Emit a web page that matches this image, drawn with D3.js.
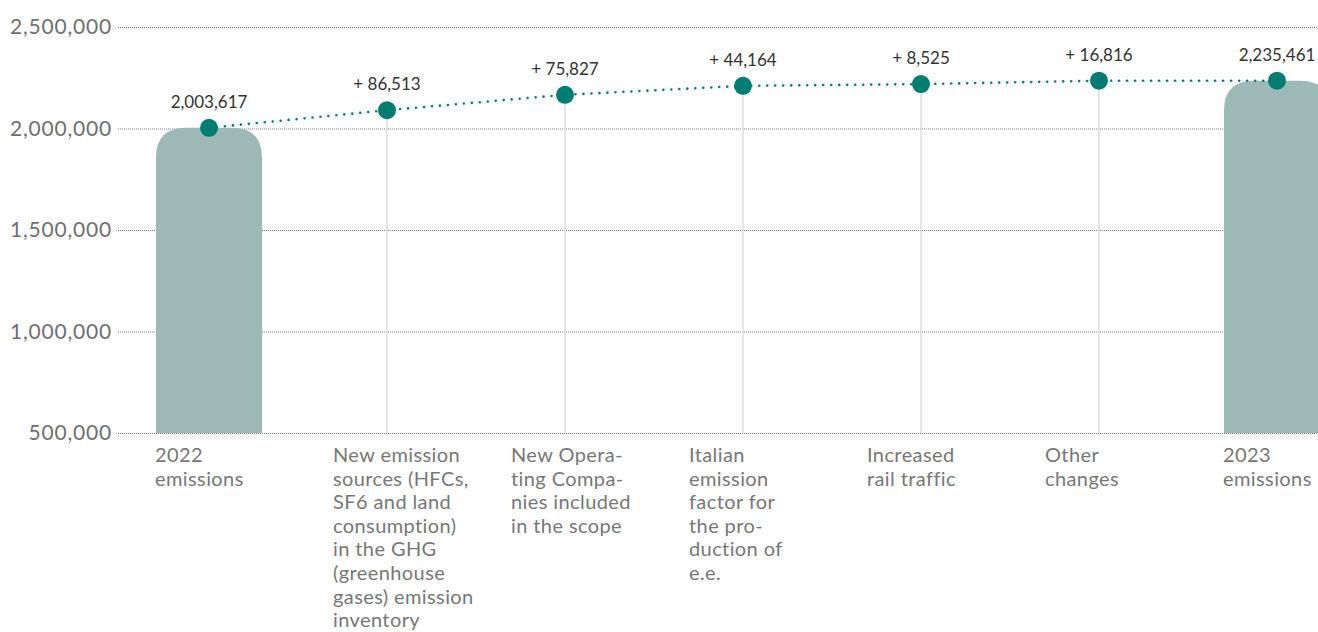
<!DOCTYPE html>
<html>
<head>
<meta charset="utf-8">
<script src="https://cdn.jsdelivr.net/npm/d3@7"></script>
<style>
  html, body { margin: 0; padding: 0; background: #fff; overflow: hidden; }
  svg { display: block; }
  text { font-family: Lato, "Noto Sans", sans-serif; }
</style>
</head>
<body>
<svg id="chart" width="1318" height="632"></svg>
<script>
// Emission bridge: 2022 total, the contributing changes, 2023 total
const categories = ["2022 emissions", "New emission sources", "New Operating Companies", "Italian emission factor", "Increased rail traffic", "Other changes", "2023 emissions"];
const categoryLines = [
  ["2022", "emissions"],
  ["New emission", "sources (HFCs,", "SF6 and land", "consumption)", "in the GHG", "(greenhouse", "gases) emission", "inventory"],
  ["New Opera-", "ting Compa-", "nies included", "in the scope"],
  ["Italian", "emission", "factor for", "the pro-", "duction of", "e.e."],
  ["Increased", "rail traffic"],
  ["Other", "changes"],
  ["2023", "emissions"]
];
const startTotal = 2003617;
const changes = [86513, 75827, 44164, 8525, 16816];
const endTotal = 2235461;
const yTicks = [500000, 1000000, 1500000, 2000000, 2500000];

const W = 1318, H = 632;
const svg = d3.select("#chart");

const x = d3.scalePoint().domain(categories).range([209, 1277]);
const y = d3.scaleLinear().domain([500000, 2500000]).range([433, 27]);
const barW = 106, radius = 30;

// cumulative level after each step
const levels = [startTotal];
changes.forEach(c => levels.push(levels[levels.length - 1] + c));
levels.push(endTotal);

const labels = [d3.format(",")(startTotal)]
  .concat(changes.map(c => "+ " + d3.format(",")(c)))
  .concat([d3.format(",")(endTotal)]);

const points = categories.map((c, i) => ({ cat: c, value: levels[i], label: labels[i], total: i === 0 || i === categories.length - 1 }));

// grid + y axis
const axisX = 118;
const yAxis = d3.axisLeft(y)
  .tickValues(yTicks)
  .tickFormat(d3.format(","))
  .tickSize(-(W - axisX))
  .tickPadding(6);
const gAxis = svg.append("g").attr("transform", `translate(${axisX},0)`).call(yAxis);
gAxis.select(".domain").remove();
gAxis.selectAll(".tick line")
  .attr("stroke", "#7a7a7a")
  .attr("stroke-width", 1)
  .attr("stroke-dasharray", "1 1");
gAxis.selectAll(".tick text")
  .attr("fill", "#6f6f6f")
  .style("font-size", "21px")
  .style("letter-spacing", "0.8px");

// rounded-top bar path
function topRoundedBar(cx, top, bottom, w, r) {
  const x0 = cx - w / 2, x1 = cx + w / 2;
  const rr = Math.min(r, (bottom - top), w / 2);
  return `M${x0},${bottom} L${x0},${top + rr} Q${x0},${top} ${x0 + rr},${top} L${x1 - rr},${top} Q${x1},${top} ${x1},${top + rr} L${x1},${bottom} Z`;
}

// total bars
svg.append("g").selectAll("path")
  .data(points.filter(p => p.total))
  .join("path")
  .attr("d", p => topRoundedBar(x(p.cat), y(p.value), y(500000), barW, radius))
  .attr("fill", "#9db9b6");

// vertical stems for the intermediate changes
svg.append("g").selectAll("line")
  .data(points.filter(p => !p.total))
  .join("line")
  .attr("x1", p => x(p.cat)).attr("x2", p => x(p.cat))
  .attr("y1", p => y(p.value)).attr("y2", y(500000))
  .attr("stroke", "#dcdcdc")
  .attr("stroke-width", 1.5);

// dotted connector
const line = d3.line().x(p => x(p.cat)).y(p => y(p.value));
svg.append("path")
  .datum(points)
  .attr("d", line)
  .attr("fill", "none")
  .attr("stroke", "#007d71")
  .attr("stroke-width", 2.6)
  .attr("stroke-linecap", "round")
  .attr("stroke-dasharray", "0 8");

// markers
svg.append("g").selectAll("circle")
  .data(points)
  .join("circle")
  .attr("cx", p => x(p.cat))
  .attr("cy", p => y(p.value))
  .attr("r", 9)
  .attr("fill", "#007d71");

// value labels
svg.append("g").selectAll("text")
  .data(points)
  .join("text")
  .attr("x", p => x(p.cat))
  .attr("y", p => y(p.value) - 20)
  .attr("text-anchor", "middle")
  .attr("fill", "#333")
  .style("font-size", "17px")
  .text(p => p.label);

// category labels
const gCat = svg.append("g");
categories.forEach((c, i) => {
  const t = gCat.append("text")
    .attr("x", x(c) - 54)
    .attr("y", 462)
    .attr("fill", "#777")
    .style("font-size", "20px")
    .style("letter-spacing", "0.4px");
  categoryLines[i].forEach((ln, j) => {
    t.append("tspan").attr("x", x(c) - 54).attr("dy", j === 0 ? 0 : 23.6).text(ln);
  });
});
</script>
</body>
</html>
